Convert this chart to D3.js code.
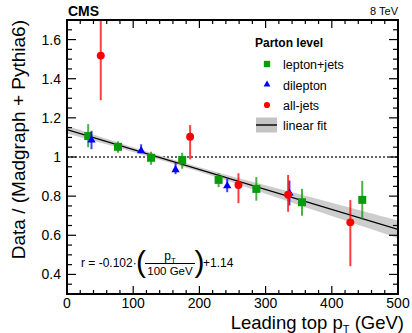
<!DOCTYPE html>
<html>
<head>
<meta charset="utf-8">
<script src="https://cdn.jsdelivr.net/npm/d3@7"></script>
<style>
  body { margin: 0; background: #fff; }
  svg { font-family: "Liberation Sans", Arial, sans-serif; }
</style>
</head>
<body>
<svg id="chart"></svg>
<script>
// lepton+jets
const ljPt  = [32, 77, 127, 174, 229, 286, 355, 446];
const ljVal = [1.107, 1.052, 0.996, 0.985, 0.883, 0.837, 0.769, 0.781];
const ljLo  = [1.05, 1.022, 0.96, 0.94, 0.846, 0.777, 0.70, 0.68];
const ljHi  = [1.168, 1.08, 1.027, 1.022, 0.917, 0.897, 0.837, 0.878];

// dilepton
const dlPt  = [37, 112, 164, 242, 336];
const dlVal = [1.087, 1.032, 0.934, 0.852, 0.815];
const dlLo  = [1.04, 1.019, 0.912, 0.82, 0.752];
const dlHi  = [1.134, 1.065, 0.971, 0.89, 0.88];

// all-jets
const ajPt  = [51, 186, 259, 334, 428];
const ajVal = [1.518, 1.103, 0.857, 0.807, 0.666];
const ajLo  = [1.29, 0.988, 0.764, 0.72, 0.442];
const ajHi  = [1.76, 1.163, 0.917, 0.908, 0.78];

// linear fit and its uncertainty band
const fitSlope = -0.102;
const fitIntercept = 1.14;
const bandPt   = [0, 100, 200, 300, 400, 500];
const bandHalf = [0.02, 0.012, 0.012, 0.022, 0.034, 0.045];

const xTicks = [0, 100, 200, 300, 400, 500];
const yTicks = [0.4, 0.6, 0.8, 1, 1.2, 1.4, 1.6];

const width = 412, height = 333;
const pLeft = 67, pRight = 398, pTop = 20, pBottom = 294;

const green = '#0a9a0a', blue = '#0000ff', red = '#ff0000';

const svg = d3.select('#chart')
    .attr('width', width)
    .attr('height', height);

const x = d3.scaleLinear().domain([0, 500]).range([pLeft, pRight]);
const y = d3.scaleLinear().domain([0.3, 1.7]).range([pBottom, pTop]);

svg.append('clipPath').attr('id', 'plot')
  .append('rect')
    .attr('x', pLeft).attr('y', pTop)
    .attr('width', pRight - pLeft).attr('height', pBottom - pTop);

const plot = svg.append('g').attr('clip-path', 'url(#plot)');

// dotted line at 1
plot.append('line')
    .attr('x1', pLeft).attr('x2', pRight)
    .attr('y1', y(1)).attr('y2', y(1))
    .style('stroke', '#333')
    .style('stroke-width', 1.3)
    .style('stroke-dasharray', '2,2');

// fit band
const band = d3.range(bandPt.length).map(i => ({pt: bandPt[i], h: bandHalf[i]}));
plot.append('path')
    .datum(band)
    .attr('d', d3.area()
        .x(d => x(d.pt))
        .y0(d => y(fitIntercept + fitSlope * d.pt / 100 - d.h))
        .y1(d => y(fitIntercept + fitSlope * d.pt / 100 + d.h))
        .curve(d3.curveCatmullRom))
    .style('fill', '#c4c4c4')
    .style('opacity', 0.85);

// fit line
plot.append('line')
    .attr('x1', x(0)).attr('y1', y(fitIntercept))
    .attr('x2', x(500)).attr('y2', y(fitIntercept + fitSlope * 5))
    .style('stroke', '#000')
    .style('stroke-width', 1.4);

function drawSeries(pts, vals, lo, hi, color, shape, size) {
    const g = plot.append('g');
    pts.forEach((p, i) => {
        g.append('line')
            .attr('x1', x(p)).attr('x2', x(p))
            .attr('y1', y(lo[i])).attr('y2', y(hi[i]))
            .style('stroke', color)
            .style('stroke-width', 2)
            .style('opacity', 0.75);
        g.append('path')
            .attr('transform', `translate(${x(p)},${y(vals[i])})`)
            .attr('d', d3.symbol().type(shape).size(size)())
            .style('fill', color);
    });
}

drawSeries(ljPt, ljVal, ljLo, ljHi, green, d3.symbolSquare, 64);
drawSeries(dlPt, dlVal, dlLo, dlHi, blue, d3.symbolTriangle, 30);
drawSeries(ajPt, ajVal, ajLo, ajHi, red, d3.symbolCircle, 50);

// frame
svg.append('rect')
    .attr('x', pLeft).attr('y', pTop)
    .attr('width', pRight - pLeft).attr('height', pBottom - pTop)
    .style('fill', 'none')
    .style('stroke', '#000')
    .style('stroke-width', 2);

// ticks
const axes = svg.append('g').style('stroke', '#000').style('stroke-width', 1.2);
d3.range(0, 501, 20).forEach(v => {
    const len = v % 100 === 0 ? 8 : 4;
    axes.append('line').attr('x1', x(v)).attr('x2', x(v)).attr('y1', pBottom).attr('y2', pBottom - len);
    axes.append('line').attr('x1', x(v)).attr('x2', x(v)).attr('y1', pTop).attr('y2', pTop + len);
});
d3.range(6, 35).map(k => k * 0.05).forEach(v => {
    const major = Math.abs(Math.round(v * 5) - v * 5) < 1e-6;
    const len = major ? 9 : 5;
    axes.append('line').attr('x1', pLeft).attr('x2', pLeft + len).attr('y1', y(v)).attr('y2', y(v));
    axes.append('line').attr('x1', pRight).attr('x2', pRight - len).attr('y1', y(v)).attr('y2', y(v));
});

// tick labels
svg.append('g').selectAll('text').data(xTicks).join('text')
    .attr('x', d => x(d)).attr('y', pBottom + 14)
    .attr('text-anchor', 'middle')
    .style('font-size', '14px')
    .text(d => d);

svg.append('g').selectAll('text').data(yTicks).join('text')
    .attr('x', pLeft - 6).attr('y', d => y(d) + 5)
    .attr('text-anchor', 'end')
    .style('font-size', '14px')
    .text(d => d);

// axis titles
const xt = svg.append('text')
    .attr('x', 404).attr('y', 328.5)
    .attr('text-anchor', 'end')
    .style('font-size', '18.5px');
xt.append('tspan').text('Leading top p');
xt.append('tspan').attr('dy', 4).style('font-size', '11px').text('T');
xt.append('tspan').attr('dy', -4).text(' (GeV)');

svg.append('text')
    .attr('transform', 'translate(25,20) rotate(-90)')
    .attr('text-anchor', 'end')
    .style('font-size', '19px')
    .text('Data / (Madgraph + Pythia6)');

// header
svg.append('text')
    .attr('x', 68).attr('y', 16)
    .style('font-size', '14px').style('font-weight', 'bold')
    .text('CMS');
svg.append('text')
    .attr('x', 398).attr('y', 15)
    .attr('text-anchor', 'end')
    .style('font-size', '11px')
    .text('8 TeV');

// legend
const legend = svg.append('g');
legend.append('text')
    .attr('x', 255).attr('y', 47)
    .style('font-size', '12px').style('font-weight', 'bold')
    .text('Parton level');
const legItems = [
    {label: 'lepton+jets', color: green, shape: d3.symbolSquare, size: 40},
    {label: 'dilepton', color: blue, shape: d3.symbolTriangle, size: 20},
    {label: 'all-jets', color: red, shape: d3.symbolCircle, size: 30}
];
legItems.forEach((d, i) => {
    const ly = 64 + i * 20.5;
    legend.append('path')
        .attr('transform', `translate(267,${ly})`)
        .attr('d', d3.symbol().type(d.shape).size(d.size)())
        .style('fill', d.color);
    legend.append('text')
        .attr('x', 283).attr('y', ly + 5)
        .style('font-size', '12.5px')
        .text(d.label);
});
legend.append('rect')
    .attr('x', 256).attr('y', 117.5)
    .attr('width', 21).attr('height', 15)
    .style('fill', '#c4c4c4');
legend.append('line')
    .attr('x1', 256).attr('x2', 277)
    .attr('y1', 125).attr('y2', 125)
    .style('stroke', '#000').style('stroke-width', 1.4);
legend.append('text')
    .attr('x', 283).attr('y', 130)
    .style('font-size', '12.5px')
    .text('linear fit');

// fit formula
const formula = svg.append('g').style('font-size', '12px');
formula.append('text').attr('x', 81).attr('y', 267).text('r = -0.102·');
formula.append('text').attr('x', 136).attr('y', 271.5)
    .style('font-size', '30px').style('font-weight', '100').text('(');
formula.append('text').attr('x', 194.5).attr('y', 271.5)
    .style('font-size', '30px').style('font-weight', '100').text(')');
const num = formula.append('text').attr('x', 170).attr('y', 260).attr('text-anchor', 'middle');
num.append('tspan').text('p');
num.append('tspan').attr('dy', 3).style('font-size', '8px').text('T');
formula.append('line')
    .attr('x1', 145).attr('x2', 195).attr('y1', 263.5).attr('y2', 263.5)
    .style('stroke', '#000').style('stroke-width', 1);
formula.append('text').attr('x', 170).attr('y', 275).attr('text-anchor', 'middle')
    .style('font-size', '11.5px').text('100 GeV');
formula.append('text').attr('x', 203).attr('y', 267).text('+1.14');
</script>
</body>
</html>
